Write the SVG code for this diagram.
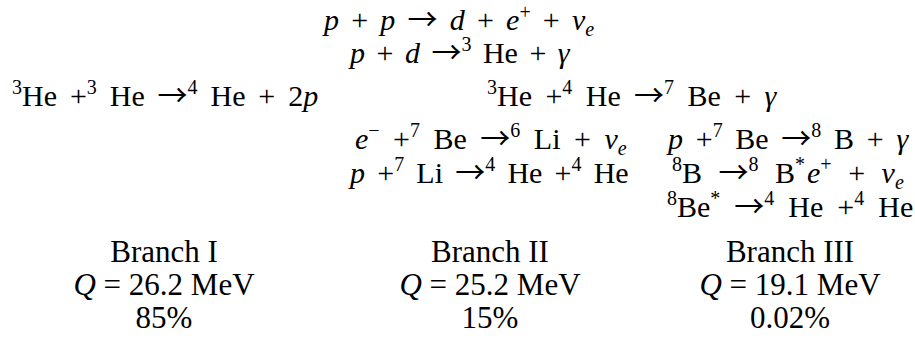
<svg xmlns="http://www.w3.org/2000/svg" width="915" height="343" viewBox="0 0 915 343">
<style>
text{font-family:"Liberation Serif","Times New Roman",serif;fill:#000}
.m{font-size:30px}
.i{font-style:italic}
.s{font-size:20px}
.a{font-family:"Noto Sans CJK JP","DejaVu Sans",sans-serif;font-size:30px}
.b{font-size:31px}
</style>
<rect width="915" height="343" fill="#fff"/>
<g id="pp">
<text class="m" x="324" y="30" word-spacing="4.7"><tspan class="i">p</tspan> + <tspan class="i">p</tspan> <tspan class="a">→</tspan> <tspan class="i">d</tspan> + <tspan class="i">e</tspan><tspan class="s" dy="-11">+</tspan><tspan dy="11"> + </tspan><tspan class="i">ν</tspan><tspan class="s i" dy="6">e</tspan></text>
</g>
<g id="pd">
<text class="m" x="350" y="63" word-spacing="4"><tspan class="i">p</tspan> + <tspan class="i">d</tspan> <tspan class="a">→</tspan><tspan class="s" dy="-12">3</tspan><tspan dy="12"> He + </tspan><tspan class="i">γ</tspan></text>
</g>
<g id="he3he3">
<text class="m" x="12" y="106" word-spacing="5.4"><tspan class="s" dy="-12">3</tspan><tspan dy="12">He +</tspan><tspan class="s" dy="-12">3</tspan><tspan dy="12"> He </tspan><tspan class="a">→</tspan><tspan class="s" dy="-12">4</tspan><tspan dy="12"> He + 2</tspan><tspan class="i">p</tspan></text>
</g>
<g id="he3he4">
<text class="m" x="487" y="106" word-spacing="5.9"><tspan class="s" dy="-12">3</tspan><tspan dy="12">He +</tspan><tspan class="s" dy="-12">4</tspan><tspan dy="12"> He </tspan><tspan class="a">→</tspan><tspan class="s" dy="-12">7</tspan><tspan dy="12"> Be + </tspan><tspan class="i">γ</tspan></text>
</g>
<g id="ebe7">
<text class="m" x="355" y="149" word-spacing="6"><tspan class="i">e</tspan><tspan class="s" dy="-12">−</tspan><tspan dy="12"> +</tspan><tspan class="s" dy="-12">7</tspan><tspan dy="12"> Be </tspan><tspan class="a">→</tspan><tspan class="s" dy="-12">6</tspan><tspan dy="12"> Li + </tspan><tspan class="i">ν</tspan><tspan class="s i" dy="6">e</tspan></text>
</g>
<g id="pbe7">
<text class="m" x="668" y="149" word-spacing="5.2"><tspan class="i">p</tspan> +<tspan class="s" dy="-12">7</tspan><tspan dy="12"> Be </tspan><tspan class="a">→</tspan><tspan class="s" dy="-12">8</tspan><tspan dy="12"> B + </tspan><tspan class="i">γ</tspan></text>
</g>
<g id="pli7">
<text class="m" x="350" y="183" word-spacing="4.7"><tspan class="i">p</tspan> +<tspan class="s" dy="-12">7</tspan><tspan dy="12"> Li </tspan><tspan class="a">→</tspan><tspan class="s" dy="-12">4</tspan><tspan dy="12"> He +</tspan><tspan class="s" dy="-12">4</tspan><tspan dy="12"> He</tspan></text>
</g>
<g id="b8">
<text class="m" x="672" y="183" word-spacing="9"><tspan class="s" dy="-12">8</tspan><tspan dy="12">B </tspan><tspan class="a">→</tspan><tspan class="s" dy="-12">8</tspan><tspan dy="12"> B</tspan><tspan class="s" dy="-12">*</tspan><tspan class="i" dy="12" dx="2">e</tspan><tspan class="s" dy="-12">+</tspan><tspan dy="12"> + </tspan><tspan class="i">ν</tspan><tspan class="s i" dy="6">e</tspan></text>
</g>
<g id="be8">
<text class="m" x="667" y="217" word-spacing="6.5"><tspan class="s" dy="-12">8</tspan><tspan dy="12">Be</tspan><tspan class="s" dy="-12">*</tspan><tspan dy="12"> </tspan><tspan class="a">→</tspan><tspan class="s" dy="-12">4</tspan><tspan dy="12"> He +</tspan><tspan class="s" dy="-12">4</tspan><tspan dy="12"> He</tspan></text>
</g>
<g id="branch1" text-anchor="middle">
<text class="b" x="164" y="262">Branch I</text>
<text class="b" x="164" y="295"><tspan class="i">Q</tspan> = 26.2 MeV</text>
<text class="b" x="164" y="328">85%</text>
</g>
<g id="branch2" text-anchor="middle">
<text class="b" x="490" y="262">Branch II</text>
<text class="b" x="490" y="295"><tspan class="i">Q</tspan> = 25.2 MeV</text>
<text class="b" x="490" y="328">15%</text>
</g>
<g id="branch3" text-anchor="middle">
<text class="b" x="790" y="262">Branch III</text>
<text class="b" x="790" y="295"><tspan class="i">Q</tspan> = 19.1 MeV</text>
<text class="b" x="790" y="328">0.02%</text>
</g>
</svg>
